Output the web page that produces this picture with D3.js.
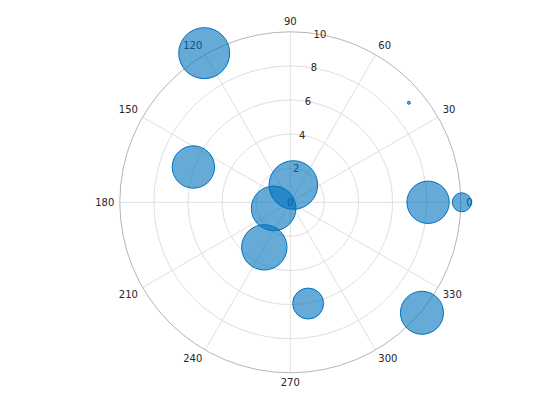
<!DOCTYPE html>
<html>
<head>
<meta charset="utf-8">
<script src="https://cdn.jsdelivr.net/npm/d3@7"></script>
<style>
  html, body { margin: 0; padding: 0; background: #fff; }
  svg { display: block; }
  text { font-family: "DejaVu Sans", sans-serif; font-size: 10px; fill: #262626; }
</style>
</head>
<body>
<svg id="chart" width="560" height="420"></svg>
<script>
// ---- data ----
const thetaDeg = [0, 40, 80, 120, 160, 200, 240, 280, 320, 360];
const rhoValues = [8.08, 9.08, 1.03, 10.1, 6.05, 1.04, 3.05, 6.03, 10.08, 10.06];
const markerSizes = [1880, 16, 2460, 2700, 1880, 2080, 2150, 1020, 1940, 400];
const rTicks = [0, 2, 4, 6, 8, 10];
const thetaTicks = [0, 30, 60, 90, 120, 150, 180, 210, 240, 270, 300, 330];

// ---- layout ----
const cx = 290.3, cy = 202.3, R = 170.5;
const svg = d3.select("#chart");
const g = svg.append("g").attr("transform", `translate(${cx},${cy})`);

const r = d3.scaleLinear().domain([0, 10]).range([0, R]);
const toRad = d => d * Math.PI / 180;
const px = (rad, deg) => r(rad) * Math.cos(toRad(deg));
const py = (rad, deg) => -r(rad) * Math.sin(toRad(deg));

// grid circles
g.selectAll("circle.grid").data(rTicks.filter(t => t > 0 && t < 10)).enter()
  .append("circle").attr("class", "grid")
  .attr("r", d => r(d)).attr("fill", "none")
  .attr("stroke", "#dfdfdf").attr("stroke-width", 1);

// spokes
g.selectAll("line.spoke").data(thetaTicks).enter()
  .append("line").attr("class", "spoke")
  .attr("x1", 0).attr("y1", 0)
  .attr("x2", d => px(10, d)).attr("y2", d => py(10, d))
  .attr("stroke", "#dfdfdf").attr("stroke-width", 1);

// outer boundary
g.append("circle").attr("r", r(10)).attr("fill", "none")
  .attr("stroke", "#b5b5b5").attr("stroke-width", 1);

// radial tick labels along 80 degrees
g.selectAll("text.rtick").data(rTicks).enter()
  .append("text").attr("class", "rtick")
  .attr("x", d => px(d, 80)).attr("y", d => py(d, 80))
  .attr("text-anchor", "middle").attr("dominant-baseline", "central")
  .text(d => d);

// angular tick labels
const labR = 10 * 176 / R;
g.selectAll("text.ttick").data(thetaTicks).enter()
  .append("text").attr("class", "ttick")
  .attr("x", d => px(labR, d)).attr("y", d => py(labR, d))
  .attr("text-anchor", d => {
    const c = Math.cos(toRad(d));
    return Math.abs(c) < 1e-6 ? "middle" : (c > 0 ? "start" : "end");
  })
  .attr("dominant-baseline", d => {
    const s = Math.sin(toRad(d));
    return Math.abs(s) < 1e-6 ? "central" : (s > 0 ? "text-after-edge" : "hanging");
  })
  .attr("dy", d => {
    const s = Math.sin(toRad(d));
    return Math.abs(s) < 1e-6 ? 0 : (s > 0 ? 1 : 0);
  })
  .text(d => d);

// scatter markers
const pts = thetaDeg.map((t, i) => ({ t, rho: rhoValues[i], s: markerSizes[i] }));
const sizeToR = s => Math.max(1.5, Math.sqrt(s) / 2 - 0.5);
g.selectAll("circle.pt").data(pts).enter()
  .append("circle").attr("class", "pt")
  .attr("cx", d => px(d.rho, d.t)).attr("cy", d => py(d.rho, d.t))
  .attr("r", d => sizeToR(d.s))
  .attr("fill", "#0072BD").attr("fill-opacity", 0.6)
  .attr("stroke", "#0072BD").attr("stroke-width", 1);
</script>
</body>
</html>
